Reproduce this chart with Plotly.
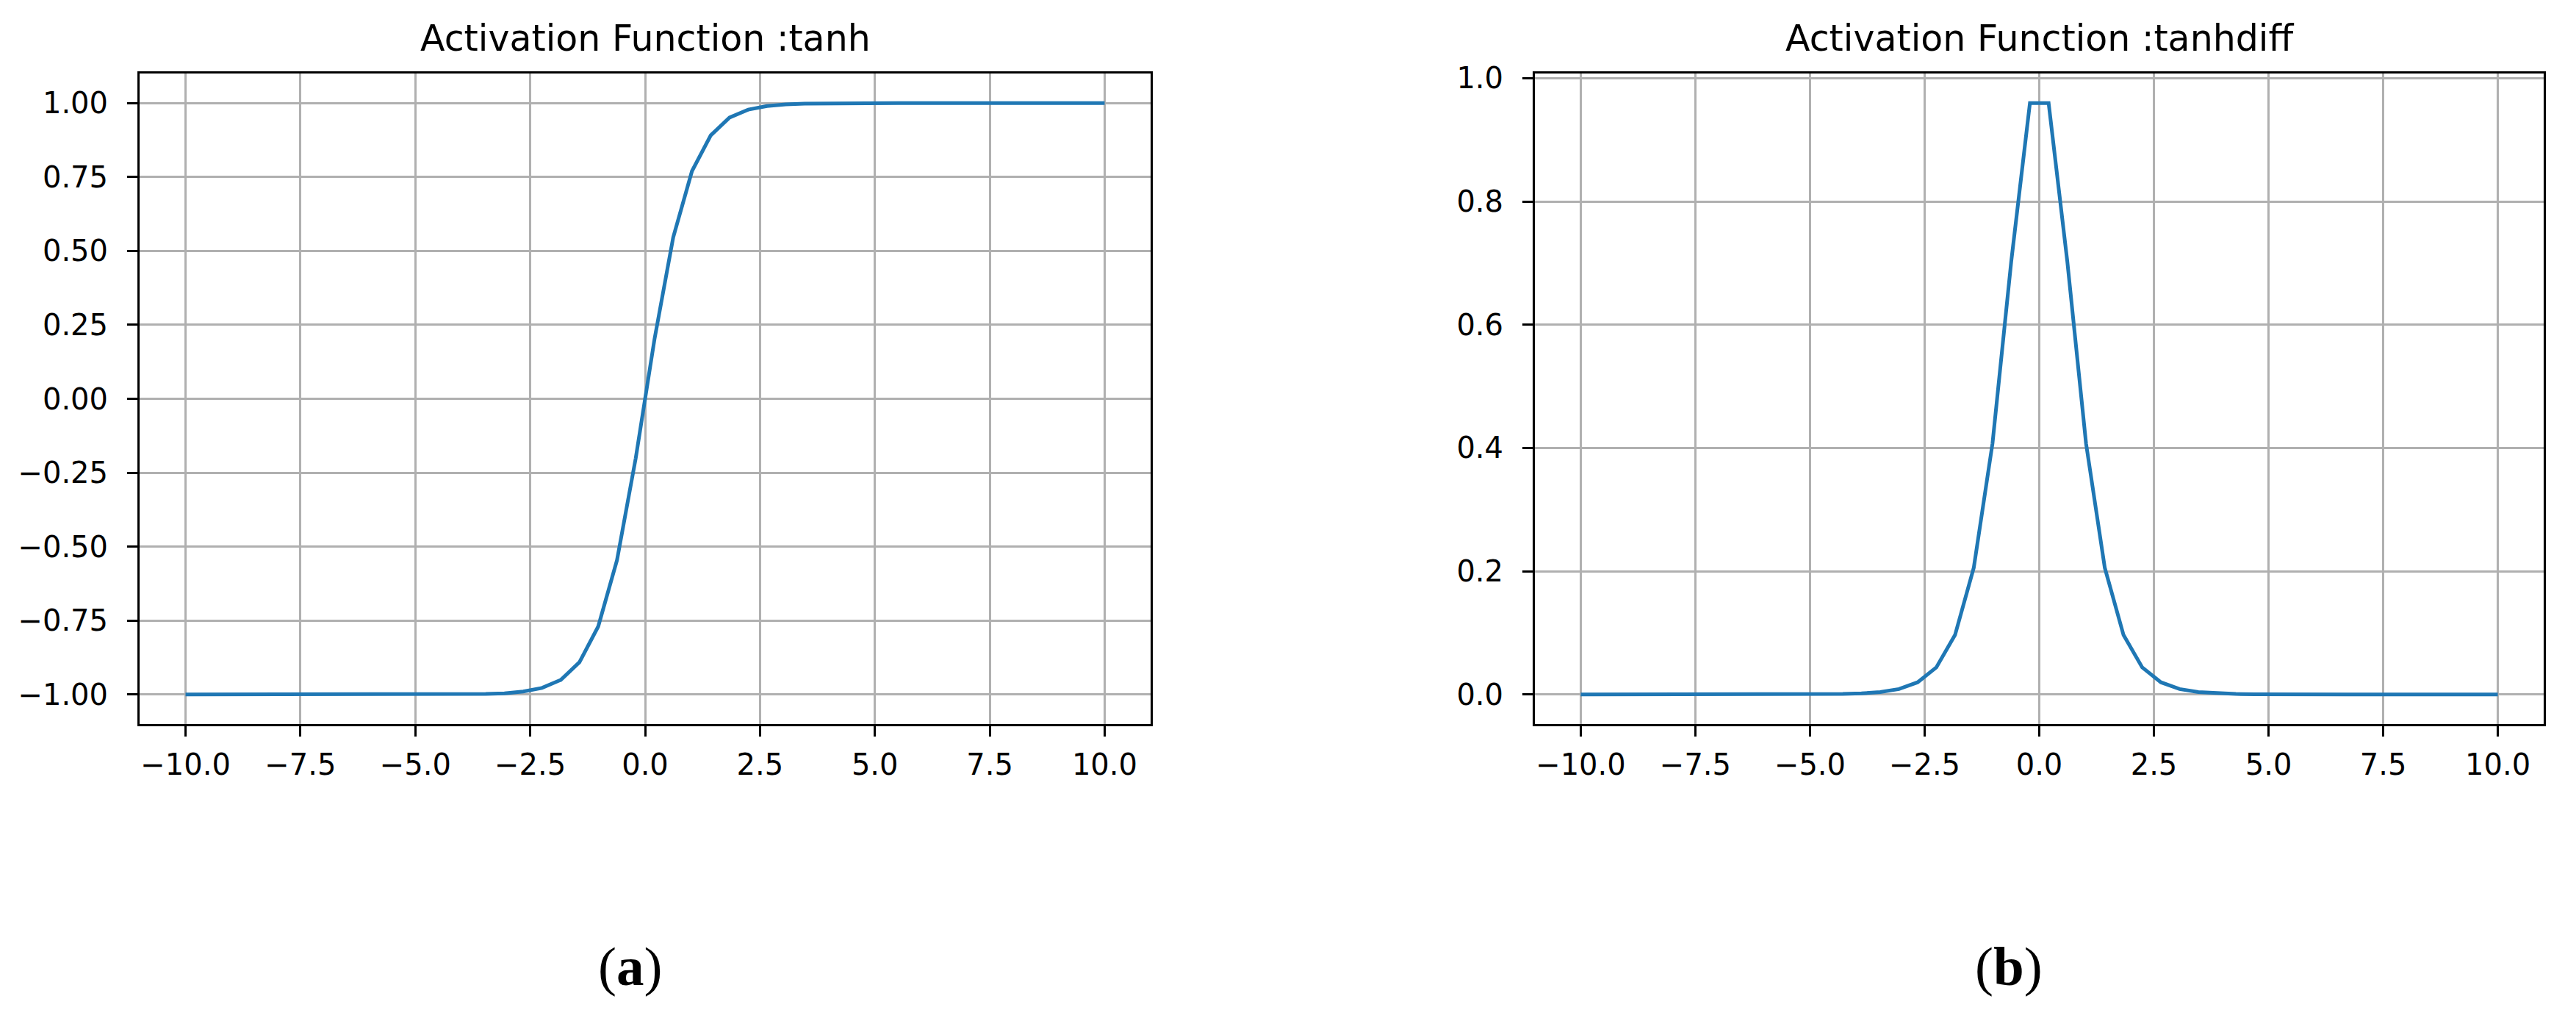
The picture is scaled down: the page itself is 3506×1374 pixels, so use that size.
import plotly.graph_objects as go

# sample points
x_vals = [
    -10.000, -9.592, -9.184, -8.776, -8.367, -7.959, -7.551, -7.143, -6.735, -6.327,
    -5.918, -5.510, -5.102, -4.694, -4.286, -3.878, -3.469, -3.061, -2.653, -2.245,
    -1.837, -1.429, -1.020, -0.612, -0.204, 0.204, 0.612, 1.020, 1.429, 1.837,
    2.245, 2.653, 3.061, 3.469, 3.878, 4.286, 4.694, 5.102, 5.510, 5.918,
    6.327, 6.735, 7.143, 7.551, 7.959, 8.367, 8.776, 9.184, 9.592, 10.000,
]
tanh_vals = [
    -1.000, -1.000, -1.000, -1.000, -1.000, -1.000, -1.000, -1.000, -1.000, -1.000,
    -1.000, -1.000, -1.000, -1.000, -1.000, -0.999, -0.998, -0.996, -0.990, -0.978,
    -0.951, -0.891, -0.770, -0.546, -0.201, 0.201, 0.546, 0.770, 0.891, 0.951,
    0.978, 0.990, 0.996, 0.998, 0.999, 1.000, 1.000, 1.000, 1.000, 1.000,
    1.000, 1.000, 1.000, 1.000, 1.000, 1.000, 1.000, 1.000, 1.000, 1.000,
]
tanhdiff_vals = [
    0.000, 0.000, 0.000, 0.000, 0.000, 0.000, 0.000, 0.000, 0.000, 0.000,
    0.000, 0.000, 0.000, 0.0003, 0.0008, 0.0017, 0.0039, 0.0088, 0.0197, 0.0439,
    0.0965, 0.2054, 0.4073, 0.7023, 0.9595, 0.9595, 0.7023, 0.4073, 0.2054, 0.0965,
    0.0439, 0.0197, 0.0088, 0.0039, 0.0017, 0.0008, 0.0003, 0.000, 0.000, 0.000,
    0.000, 0.000, 0.000, 0.000, 0.000, 0.000, 0.000, 0.000, 0.000, 0.000,
]

x_ticks = [-10, -7.5, -5, -2.5, 0, 2.5, 5, 7.5, 10]
x_tick_text = ["\u221210.0", "\u22127.5", "\u22125.0", "\u22122.5", "0.0", "2.5", "5.0", "7.5", "10.0"]
tanh_ticks = [-1, -0.75, -0.5, -0.25, 0, 0.25, 0.5, 0.75, 1]
tanh_tick_text = ["\u22121.00", "\u22120.75", "\u22120.50", "\u22120.25", "0.00", "0.25", "0.50", "0.75", "1.00"]
diff_ticks = [0, 0.2, 0.4, 0.6, 0.8, 1.0]
diff_tick_text = ["0.0", "0.2", "0.4", "0.6", "0.8", "1.0"]

titles = ["Activation Function :tanh", "Activation Function :tanhdiff"]
captions = ["(<b>a</b>)", "(<b>b</b>)"]

W, H = 3506, 1374
DX, DY = -8, -16  # page offset compensation
LINE = "#1f77b4"
GRID = "#b0b0b0"
FONT = "DejaVu Sans"

fig = go.Figure()
fig.add_trace(go.Scatter(x=x_vals, y=tanh_vals, mode="lines",
                         line=dict(color=LINE, width=5),
                         xaxis="x", yaxis="y", showlegend=False))
fig.add_trace(go.Scatter(x=x_vals, y=tanhdiff_vals, mode="lines",
                         line=dict(color=LINE, width=5),
                         xaxis="x2", yaxis="y2", showlegend=False))

axis_common = dict(
    showline=True, linecolor="#000000", linewidth=3, mirror=True,
    showgrid=True, gridcolor=GRID, gridwidth=3,
    zeroline=False,
    ticks="outside", ticklen=14, tickwidth=3, tickcolor="#000000",
    tickfont=dict(family=FONT, size=40, color="#000000"),
)


def xdom(a, b):
    return [(a + DX) / W, (b + DX) / W]


y_dom = [1 - (988 + DY) / H, 1 - (92 + DY) / H]
fig.update_layout(
    width=W, height=H,
    margin=dict(l=0, r=0, t=0, b=0),
    paper_bgcolor="white", plot_bgcolor="white",
    xaxis=dict(axis_common, domain=xdom(190, 1566), range=[-11, 11],
               tickvals=x_ticks, ticktext=x_tick_text, anchor="y",
               ticklabelstandoff=4),
    yaxis=dict(axis_common, domain=y_dom, range=[-1.1, 1.1],
               tickvals=tanh_ticks, ticktext=tanh_tick_text, anchor="x",
               ticklabelstandoff=18),
    xaxis2=dict(axis_common, domain=xdom(2089, 3462), range=[-11, 11],
                tickvals=x_ticks, ticktext=x_tick_text, anchor="y2",
                ticklabelstandoff=4),
    yaxis2=dict(axis_common, domain=y_dom, range=[-0.048, 1.0075],
                tickvals=diff_ticks, ticktext=diff_tick_text, anchor="x2",
                ticklabelstandoff=18),
)

for i, (title, caption) in enumerate(zip(titles, captions)):
    xref = "x domain" if i == 0 else "x2 domain"
    fig.add_annotation(text=title, xref=xref, x=0.5, yref="paper",
                       y=1 - (44 + DY) / H, yanchor="middle", showarrow=False,
                       font=dict(family=FONT, size=49, color="#000000"))
    fig.add_annotation(text=caption, xref=xref, x=0.485 if i == 0 else 0.47,
                       yref="paper", y=1 - (1322 + DY) / H, yanchor="middle",
                       showarrow=False,
                       font=dict(family="Liberation Serif", size=75, color="#000000"))

fig.write_html("out.html")
